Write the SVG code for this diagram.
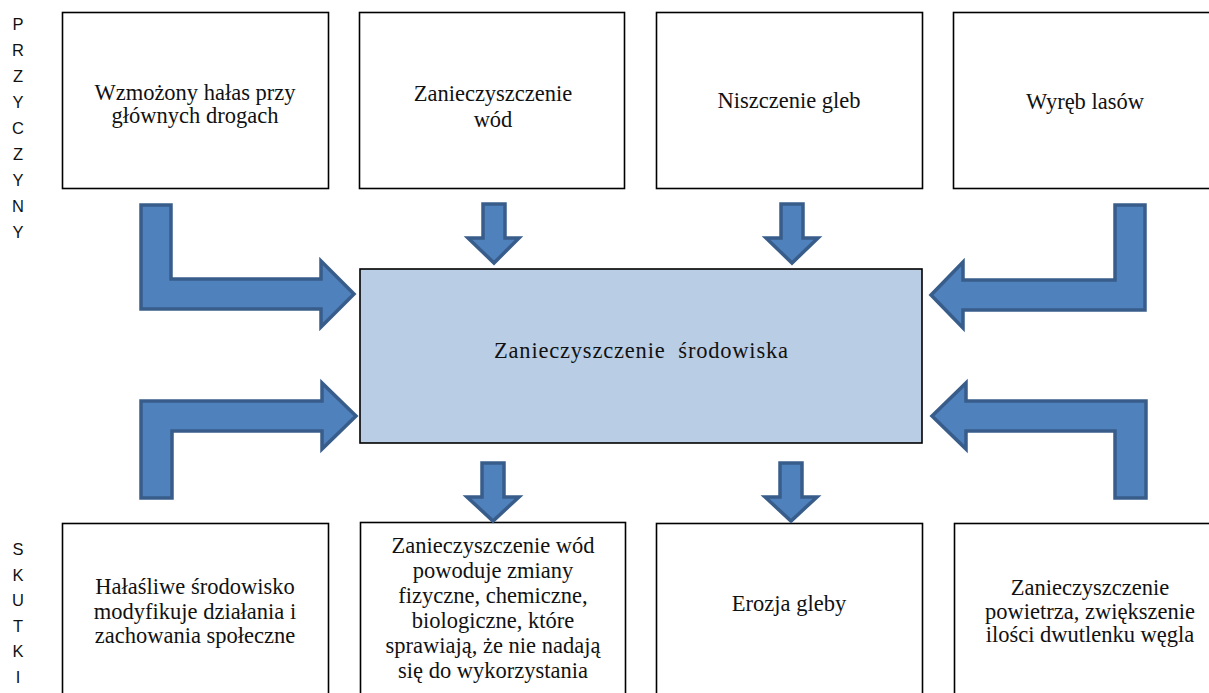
<svg xmlns="http://www.w3.org/2000/svg" width="1209" height="693" viewBox="0 0 1209 693">
<style>
.box{fill:#ffffff;stroke:#000000;stroke-width:1.6}
.main{fill:#b9cde5;stroke:#000000;stroke-width:1.6}
.arr{fill:#4f81bd;stroke:#385d8a;stroke-width:3.5;stroke-linejoin:miter}
.t{font-family:"Liberation Serif","Times New Roman",serif;font-size:22.5px;fill:#111111;text-anchor:middle}
.side{font-family:"Liberation Sans",Arial,sans-serif;font-size:16.5px;fill:#111111;text-anchor:middle}
</style>
<rect width="1209" height="693" fill="#ffffff"/>
<g id="label-przyczyny">
<text class="side" x="18" y="30">P</text>
<text class="side" x="18" y="56">R</text>
<text class="side" x="18" y="82">Z</text>
<text class="side" x="18" y="108">Y</text>
<text class="side" x="18" y="134">C</text>
<text class="side" x="18" y="160">Z</text>
<text class="side" x="18" y="186">Y</text>
<text class="side" x="18" y="212">N</text>
<text class="side" x="18" y="238">Y</text>
</g>
<g id="label-skutki">
<text class="side" x="18" y="555">S</text>
<text class="side" x="18" y="581">K</text>
<text class="side" x="18" y="606">U</text>
<text class="side" x="18" y="632">T</text>
<text class="side" x="18" y="657">K</text>
<text class="side" x="18" y="683">I</text>
</g>
<g id="cause1">
<rect class="box" x="62.5" y="12.5" width="266" height="176"/>
<text class="t" x="195" y="100">Wzmożony hałas przy</text>
<text class="t" x="195" y="123">głównych drogach</text>
</g>
<g id="cause2">
<rect class="box" x="359.5" y="12.5" width="265" height="176"/>
<text class="t" x="493" y="101">Zanieczyszczenie</text>
<text class="t" x="493" y="127">wód</text>
</g>
<g id="cause3">
<rect class="box" x="656.5" y="12.5" width="266" height="176"/>
<text class="t" x="789" y="108">Niszczenie gleb</text>
</g>
<g id="cause4">
<rect class="box" x="953.5" y="12.5" width="270" height="176"/>
<text class="t" x="1085" y="109">Wyręb lasów</text>
</g>
<g id="center">
<rect class="main" x="360" y="269" width="562" height="174"/>
<text class="t" x="641" y="358" xml:space="preserve" textLength="294" lengthAdjust="spacing">Zanieczyszczenie  środowiska</text>
</g>
<g id="effect1">
<rect class="box" x="62.5" y="523.5" width="266" height="180"/>
<text class="t" x="195" y="594">Hałaśliwe środowisko</text>
<text class="t" x="195" y="619">modyfikuje działania i</text>
<text class="t" x="195" y="643">zachowania społeczne</text>
</g>
<g id="effect2">
<rect class="box" x="360.5" y="522.5" width="265" height="180"/>
<text class="t" x="493" y="553">Zanieczyszczenie wód</text>
<text class="t" x="493" y="578">powoduje zmiany</text>
<text class="t" x="493" y="603">fizyczne, chemiczne,</text>
<text class="t" x="493" y="628">biologiczne, które</text>
<text class="t" x="493" y="653">sprawiają, że nie nadają</text>
<text class="t" x="493" y="678">się do wykorzystania</text>
</g>
<g id="effect3">
<rect class="box" x="656.5" y="523.5" width="266" height="180"/>
<text class="t" x="789" y="611">Erozja gleby</text>
</g>
<g id="effect4">
<rect class="box" x="954.5" y="523.5" width="270" height="180"/>
<text class="t" x="1090" y="595">Zanieczyszczenie</text>
<text class="t" x="1090" y="619">powietrza, zwiększenie</text>
<text class="t" x="1090" y="642">ilości dwutlenku węgla</text>
</g>
<g id="connectors">
<path class="arr" d="M141,205 L171,205 L171,279 L321,279 L321,261 L354,294 L321,327 L321,309 L141,309 Z"/>
<path class="arr" d="M1145,205 L1115,205 L1115,280 L963,280 L963,262 L931,295 L963,328 L963,310 L1145,310 Z"/>
<path class="arr" d="M141,498 L141,401 L322,401 L322,383 L356,416 L322,449 L322,431 L172,431 L172,498 Z"/>
<path class="arr" d="M1146,498 L1146,401 L966,401 L966,383 L932,416 L966,449 L966,431 L1115,431 L1115,498 Z"/>
<path class="arr" d="M483,204 L505,204 L505,238 L519,238 L494,263 L468,238 L483,238 Z"/>
<path class="arr" d="M781,204 L803,204 L803,238 L818,238 L792,263 L766,238 L781,238 Z"/>
<path class="arr" d="M482,463 L504,463 L504,497 L519,497 L493,521 L467,497 L482,497 Z"/>
<path class="arr" d="M780,463 L802,463 L802,497 L817,497 L791,521 L765,497 L780,497 Z"/>
</g>
</svg>
